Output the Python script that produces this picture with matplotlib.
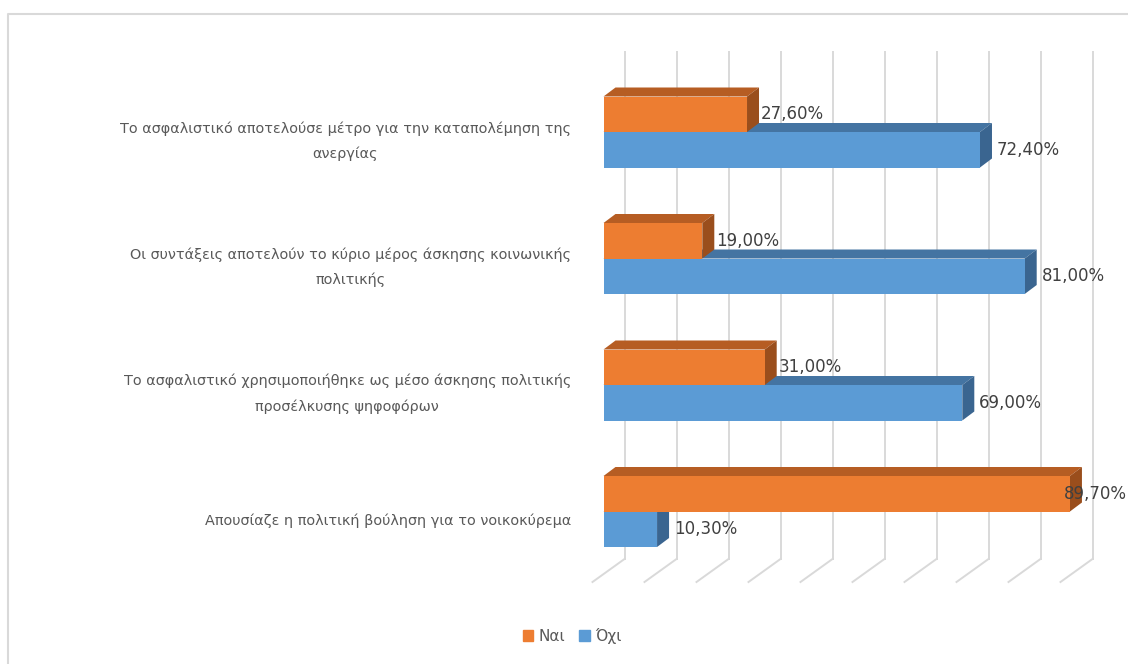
import matplotlib.pyplot as plt
from matplotlib.patches import Polygon, Patch
from matplotlib.lines import Line2D
from matplotlib.transforms import ScaledTranslation

plt.rcParams.update({
    'font.family': 'DejaVu Sans',
    'font.size': 11,
})

# -----------------------------------------------------------------------------
# Data

categories = [
    "Το ασφαλιστικό αποτελούσε μέτρο για την καταπολέμηση της\nανεργίας",
    "Οι συντάξεις αποτελούν το κύριο μέρος άσκησης κοινωνικής\nπολιτικής",
    "Το ασφαλιστικό χρησιμοποιήθηκε ως μέσο άσκησης πολιτικής\nπροσέλκυσης ψηφοφόρων",
    "Απουσίαζε η πολιτική βούληση για το νοικοκύρεμα",
]
nai = [27.6, 19.0, 31.0, 89.7]
oxi = [72.4, 81.0, 69.0, 10.3]
series_names = ["Ναι", "Όχι"]
grid_vals = [0, 10, 20, 30, 40, 50, 60, 70, 80, 90]

# Excel-like 3D colours: front, top, side
orange = ('#ED7D31', '#B65D23', '#9A4E1C')
blue = ('#5B9BD5', '#4474A2', '#3A6590')
text_col = '#595959'
grid_col = '#D9D9D9'

# -----------------------------------------------------------------------------
# Geometry (pixel scale of the chart area)

W, H, DPI = 1128, 664, 100
PX_X, X0 = 5.2, 603.5      # px per percent, px of 0 % on the bar front plane
PX_Y, Y0 = 126.5, 132.0    # px per category, px of first category centre
AX_L, AX_R, AX_T, AX_B = 580, 1128, 30, 600


def dx(px):
    return px / PX_X


def py(px):
    return (px - Y0) / PX_Y


BAR_H = 35.5 / PX_Y
DEPTH_X, DEPTH_Y = dx(12), 9 / PX_Y
WALL_X = dx(21)


def bar3d(ax, yc, v, cols, z):
    y0, y1 = yc - BAR_H / 2, yc + BAR_H / 2
    top = [(0, y0), (v, y0), (v + DEPTH_X, y0 - DEPTH_Y), (DEPTH_X, y0 - DEPTH_Y)]
    side = [(v, y0), (v + DEPTH_X, y0 - DEPTH_Y), (v + DEPTH_X, y1 - DEPTH_Y), (v, y1)]
    ax.add_patch(Polygon(top, closed=True, facecolor=cols[1], edgecolor='none', zorder=z))
    ax.add_patch(Polygon(side, closed=True, facecolor=cols[2], edgecolor='none', zorder=z))
    ax.barh(yc, v, height=BAR_H, color=cols[0], edgecolor='none', zorder=z + 0.5)


fig = plt.figure(figsize=(W / DPI, H / DPI), dpi=DPI)
ax = fig.add_axes([AX_L / W, (H - AX_B) / H, (AX_R - AX_L) / W, (AX_B - AX_T) / H])
ax.set_xlim(dx(AX_L - X0), dx(AX_R - X0))
ax.set_ylim(py(AX_B), py(AX_T))

# back wall gridlines and floor
for g in grid_vals:
    xb = g + WALL_X
    ax.plot([xb, xb], [py(52), py(559)], color=grid_col, lw=1.4, zorder=1, clip_on=False)
    ax.plot([xb, xb - dx(32)], [py(559), py(582)], color=grid_col, lw=1.4, zorder=1, clip_on=False)

# bars
for i, (vn, vo) in enumerate(zip(nai, oxi)):
    bar3d(ax, i + BAR_H / 2, vo, blue, 2)
    bar3d(ax, i - BAR_H / 2, vn, orange, 4)

# value labels
x_right = dx(1127 - X0)
for i, (vn, vo) in enumerate(zip(nai, oxi)):
    for v, yc, gap in ((vn, i - BAR_H / 2, 14), (vo, i + BAR_H / 2, 17)):
        txt = f"{v:.2f}".replace('.', ',') + '%'
        xl = v + dx(gap)
        if xl + dx(66) > x_right:
            ax.text(x_right, yc, txt, ha='right', va='center', fontsize=12,
                    color='#404040', zorder=10, clip_on=False)
        else:
            ax.text(xl, yc, txt, ha='left', va='center', fontsize=12,
                    color='#404040', zorder=10, clip_on=False)

# category labels
ax.set_yticks(range(len(categories)))
ax.set_yticklabels(categories, color=text_col, fontsize=10.4, linespacing=1.95)
ax.tick_params(axis='y', length=0, pad=6.5)
for lbl in ax.get_yticklabels():
    lbl.set_multialignment('center')
    down = 2 if '\n' in lbl.get_text() else 8
    shift = ScaledTranslation(0, -down / DPI, fig.dpi_scale_trans)
    lbl.set_transform(lbl.get_transform() + shift)
ax.set_xticks([])
for s in ax.spines.values():
    s.set_visible(False)
ax.patch.set_alpha(0)

# legend
handles = [Patch(color=orange[0], label=series_names[0]),
           Patch(color=blue[0], label=series_names[1])]
fig.legend(handles=handles, loc='center', bbox_to_anchor=(572 / W, 1 - 636 / H),
           ncol=2, frameon=False, handlelength=0.7, handleheight=0.7,
           handletextpad=0.35, columnspacing=0.9, fontsize=11, labelcolor=text_col)

# chart frame
fig.add_artist(Line2D([8 / W, 8 / W, 1.0], [0.0, 1 - 14 / H, 1 - 14 / H],
                      color=grid_col, lw=1.5, transform=fig.transFigure))

fig.savefig('out.png', dpi=DPI)
